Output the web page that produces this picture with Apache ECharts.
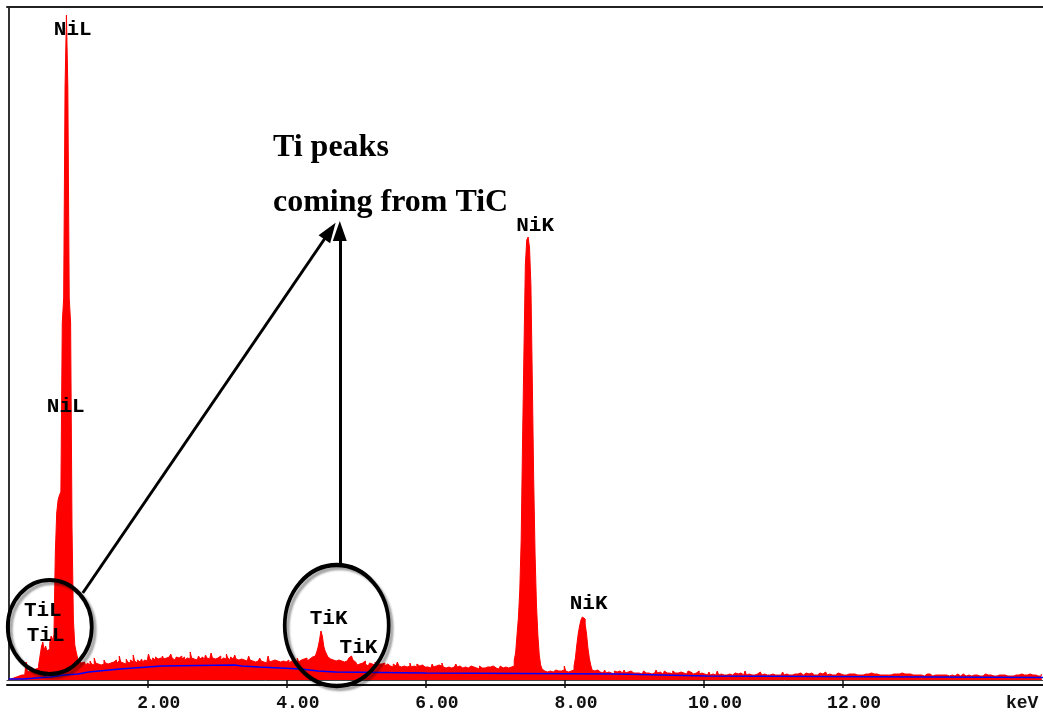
<!DOCTYPE html>
<html><head><meta charset="utf-8">
<script src="https://cdn.jsdelivr.net/npm/echarts@6/dist/echarts.min.js"></script>
<style>html,body{margin:0;padding:0;background:#fff}#c{width:1043px;height:720px}</style>
</head><body><div id="c"></div>
<script>
// EDS spectrum, channel width 0.02 keV, channel i at i*0.02 keV
const channelKeV = 0.02;
const counts = [
0,1,1,2,2,3,3,4,4,5,6,5,7,18,8,9,10,12,9,11,13,12,15,24,33,
38,30,34,29,31,37,44,40,45,127,167,180,185,188,357,382,593,665,593,382,357,153,60,35,28,
22,19,17,15,18,16,14,17,15,19,16,15,22,17,16,18,15,17,16,20,17,16,18,17,19,
18,16,20,17,19,24,18,17,19,16,21,18,17,20,18,25,19,17,20,18,19,21,17,20,19,
20,26,21,19,22,20,23,21,20,22,19,24,21,22,20,23,21,26,22,20,21,23,22,20,24,
21,23,20,22,24,21,28,22,21,23,20,22,24,21,23,22,20,25,22,21,23,27,22,21,23,
22,21,24,20,22,23,21,26,22,20,23,21,22,25,21,20,22,21,23,20,22,19,21,24,20,
19,21,18,20,19,17,22,19,18,20,17,19,24,18,19,17,20,18,19,21,18,17,19,20,18,
18,20,17,19,21,18,20,19,22,18,20,19,21,20,22,19,21,20,23,22,24,26,28,33,40,
49,44,34,29,26,23,21,19,20,18,19,17,20,18,19,21,18,20,19,21,22,24,23,20,18,
17,15,16,14,17,15,19,16,14,15,17,16,14,15,18,15,16,14,16,15,17,14,16,15,14,
15,13,16,14,15,18,14,13,15,14,16,13,15,14,17,13,14,15,13,16,14,13,15,14,13,
14,13,15,12,14,16,13,14,12,15,13,14,17,13,12,14,13,15,12,14,13,12,16,13,14,
13,12,14,13,15,12,13,14,12,13,15,12,13,11,14,12,13,12,14,13,11,13,12,14,13,
12,13,11,12,14,12,11,13,12,12,11,13,12,14,20,27,45,62,90,140,240,330,415,440,443,
432,395,300,200,125,75,45,25,15,11,9,10,8,10,9,11,8,9,10,8,9,11,9,8,10,
14,9,8,10,9,11,10,14,22,35,46,54,60,63,61,56,46,32,22,15,10,9,8,10,9,
8,9,7,8,10,7,8,9,7,8,6,9,8,7,9,8,7,8,10,7,8,7,9,8,7,
8,7,9,7,8,6,8,9,7,8,7,9,6,8,7,8,10,7,8,7,6,8,9,7,8,
7,8,6,9,7,8,7,6,8,9,7,8,6,7,9,8,7,6,8,7,8,9,6,7,8,
6,7,5,6,8,5,6,7,5,6,9,5,6,7,5,6,5,7,6,8,5,6,7,5,6,
5,7,6,5,6,9,5,6,7,5,6,5,7,6,5,8,6,5,6,7,5,6,5,7,6,
6,5,7,5,6,5,6,8,5,6,7,5,6,5,7,6,5,6,5,7,6,5,6,7,5,
6,5,7,6,5,6,5,6,7,5,6,5,8,6,5,6,7,5,6,5,6,7,5,6,5,
5,6,5,7,6,5,6,5,6,7,5,6,5,6,5,7,6,5,6,5,7,5,6,5,6,
6,5,6,5,7,5,6,5,6,5,7,6,5,6,5,6,5,7,5,6,5,6,5,6,5,
5,6,5,6,5,7,5,6,4,5,6,5,6,5,4,6,5,6,5,7,5,4,5,6,5,
5,4,6,5,6,4,5,6,5,4,5,6,5,4,6,5,5,4,6,5,4,5,6,4,5,
4,5,6,4,5,4,5,6,4,5,4,6,5,4,5,4,5,6,4,5,4,5,4,6,5,
4,5,4,6,4,5,4,5,4,6,4,5,4,5,4,4,5,4,6
];
// Background (Bremsstrahlung) fit
const bgKeV    = [0, 0.2, 0.4, 0.6, 0.8, 1.0, 1.15, 1.3, 1.45, 1.6, 1.8, 2.0, 2.2, 3.25, 3.35, 3.6, 3.9, 4.2, 4.45, 4.7, 6.0, 8.75, 10.04, 14.875];
const bgCounts = [1, 2, 3, 5, 6, 8, 9, 10, 11, 12, 13, 14, 15, 14, 13, 12, 11, 9, 8, 7, 6, 4, 2.5, 2.5];
// Axis
const tickKeV = [2, 4, 6, 8, 10, 12];
const xMinKeV = -0.025, xMaxKeV = 14.875, yMaxCounts = 673;
// Peak labels
const peakNames       = ['NiL', 'NiL', 'TiL', 'TiL', 'TiK', 'TiK', 'NiK', 'NiK'];
const peakLabelKeV    = [0.92, 0.82, 0.49, 0.53, 4.60, 5.03, 7.57, 8.34];
const peakLabelCounts = [650, 273, 69, 44, 61, 32, 454, 76];
// Annotation
const noteLines  = ['Ti peaks', 'coming from TiC'];
const noteKeV    = [3.80, 3.80];
const noteCounts = [532, 477];
const circleKeV    = [0.59, 4.717];
const circleCounts = [53, 54.5];
const arrowFromKeV = [1.065, 4.761], arrowFromCounts = [87, 117];
const arrowToKeV   = [4.62, 4.761], arrowToCounts   = [449, 449];

const chart = echarts.init(document.getElementById('c'), null, {renderer: 'canvas'});
const mono = "'Liberation Mono','Courier New',monospace";
const serif = "'Liberation Serif','Times New Roman',serif";
const circleSizes = [[84, 94], [104, 121]];

chart.setOption({
  animation: false,
  backgroundColor: '#ffffff',
  grid: {left: 7, right: 0, top: 7, bottom: 40, containLabel: false},
  xAxis: [
    {
      type: 'value', min: xMinKeV, max: xMaxKeV, position: 'bottom',
      axisLine: {show: true, lineStyle: {color: '#444', width: 1}},
      axisTick: {show: true, length: 8, customValues: tickKeV, lineStyle: {color: '#111', width: 1.5}},
      axisLabel: {show: true, customValues: tickKeV, margin: 14, padding: [0, 0, 0, 22],
        formatter: v => v.toFixed(2), color: '#111', fontFamily: mono, fontWeight: 'bold', fontSize: 18},
      splitLine: {show: false},
      name: 'keV', nameLocation: 'end', nameGap: -37,
      nameTextStyle: {color: '#111', fontFamily: mono, fontWeight: 'bold', fontSize: 18, verticalAlign: 'top', padding: [14, 0, 0, 0]}
    },
    {
      type: 'value', min: xMinKeV, max: xMaxKeV, position: 'bottom', offset: 5,
      axisLine: {show: true, lineStyle: {color: '#111', width: 2}},
      axisTick: {show: false}, axisLabel: {show: false}, splitLine: {show: false}
    },
    {
      type: 'value', min: xMinKeV, max: xMaxKeV, position: 'top',
      axisLine: {show: true, lineStyle: {color: '#222', width: 2}},
      axisTick: {show: false}, axisLabel: {show: false}, splitLine: {show: false}
    }
  ],
  yAxis: {
    type: 'value', min: 0, max: yMaxCounts,
    axisLine: {show: true, lineStyle: {color: '#333', width: 2}},
    axisTick: {show: false}, axisLabel: {show: false}, splitLine: {show: false}
  },
  series: [
    {
      name: 'spectrum', type: 'line', xAxisIndex: 0, step: 'middle', symbol: 'none',
      data: counts.map((c, i) => [i * channelKeV, c]),
      lineStyle: {color: '#ff0000', width: 1},
      areaStyle: {color: '#ff0000', opacity: 1},
      z: 2, silent: true
    },
    {
      name: 'background', type: 'line', xAxisIndex: 0, step: 'end', symbol: 'none',
      data: bgKeV.map((e, i) => [e, bgCounts[i]]),
      lineStyle: {color: '#0000ff', width: 1.5},
      z: 3, silent: true
    },
    {
      name: 'peaks', type: 'scatter', xAxisIndex: 0, symbolSize: 1,
      itemStyle: {color: 'rgba(0,0,0,0)'},
      data: peakNames.map((n, i) => ({name: n, value: [peakLabelKeV[i], peakLabelCounts[i]]})),
      label: {show: true, position: 'inside', formatter: p => p.name, color: '#000', opacity: 1,
        textBorderWidth: 0, fontFamily: mono, fontWeight: 'bold', fontSize: 21},
      z: 5, silent: true
    },
    {
      name: 'note', type: 'scatter', xAxisIndex: 0, symbolSize: 1,
      itemStyle: {color: 'rgba(0,0,0,0)'},
      data: noteLines.map((n, i) => ({name: n, value: [noteKeV[i], noteCounts[i]]})),
      label: {show: true, position: 'inside', align: 'left', verticalAlign: 'middle', formatter: p => p.name,
        color: '#000', opacity: 1, textBorderWidth: 0, fontFamily: serif, fontWeight: 'bold', fontSize: 32},
      markPoint: {
        symbol: 'circle', silent: true, animation: false,
        label: {show: false},
        itemStyle: {color: 'rgba(0,0,0,0)', borderColor: '#000', borderWidth: 4,
          shadowColor: 'rgba(0,0,0,0.35)', shadowBlur: 2, shadowOffsetX: 3, shadowOffsetY: 3},
        data: circleKeV.map((e, i) => ({coord: [e, circleCounts[i]], symbolSize: circleSizes[i]}))
      },
      markLine: {
        silent: true, animation: false,
        symbol: ['none', 'triangle'], symbolSize: [14, 20],
        label: {show: false},
        lineStyle: {color: '#000', width: 3, type: 'solid'},
        data: arrowFromKeV.map((e, i) => [
          {coord: [e, arrowFromCounts[i]]},
          {coord: [arrowToKeV[i], arrowToCounts[i]]}
        ])
      },
      z: 6
    }
  ]
});
</script>
</body></html>
